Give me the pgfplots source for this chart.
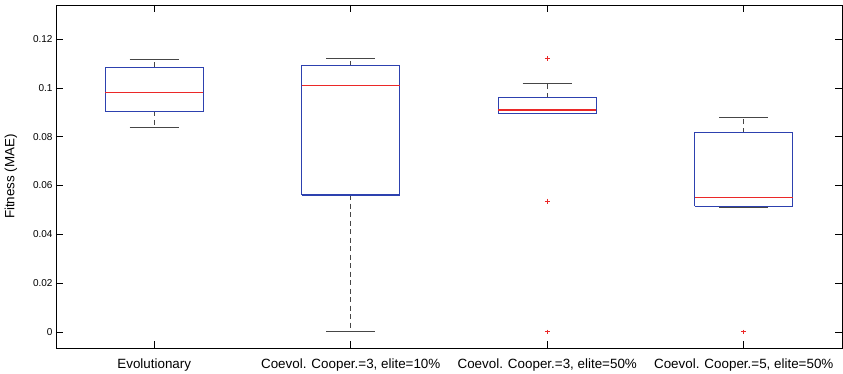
\documentclass[border=0pt]{standalone}
\usepackage{pgfplots}
\pgfplotsset{compat=1.18}
\usetikzlibrary{calc}
\usepackage{fontspec}
\setmainfont{Liberation Sans}
\definecolor{mblue}{RGB}{45,65,175}
\definecolor{mred}{RGB}{235,40,40}
\definecolor{wgray}{RGB}{70,70,70}
\begin{document}
\begin{tikzpicture}
\begin{axis}[
  name=ax,
  scale only axis,
  width=786pt, height=343pt,
  xmin=0.5, xmax=4.5,
  ymin=-0.0066, ymax=0.134,
  xtick={1,2,3,4},
  xticklabels={Evolutionary, {Coevol. Cooper.=3, elite=10\%}, {Coevol. Cooper.=3, elite=50\%}, {Coevol. Cooper.=5, elite=50\%}},
  ytick={0,0.02,0.04,0.06,0.08,0.1,0.12},
  scaled y ticks=false,
  yticklabel style={font=\fontsize{10}{12}\selectfont, /pgf/number format/fixed, /pgf/number format/precision=2},
  xticklabel style={font=\fontsize{13.4}{15}\selectfont, yshift=-7pt},
  /pgf/number format/assume math mode=true,
  ylabel={Fitness (MAE)},
  every axis y label/.style={at={(axis description cs:0,0.5)}, xshift=-45pt, rotate=90, anchor=center, font=\fontsize{13.4}{15}\selectfont},
  tick align=inside,
  major tick length=7pt,
  tick style={line width=0.6pt, black},
  axis line style={line width=0.8pt},
  unbounded coords=jump,
]
% dashed whiskers: quartile to whisker end
\addplot[wgray, mark=none, line width=1pt, dash pattern=on 5pt off 3.5pt] coordinates {
  (1,0.0904) (1,0.0837) (1,nan) (1,0.1085) (1,0.1115) (1,nan)
  (2,0.0561) (2,0.0) (2,nan) (2,0.1091) (2,0.1119) (2,nan)
  (3,0.0960) (3,0.1019) (3,nan)
  (4,0.0515) (4,0.0511) (4,nan) (4,0.0817) (4,0.0880)
};
% whisker caps
\addplot[wgray, mark=none, line width=1pt] coordinates {
  (0.875,0.0837) (1.125,0.0837) (1,nan) (0.875,0.1115) (1.125,0.1115) (1,nan)
  (1.875,0.0) (2.125,0.0) (2,nan) (1.875,0.1119) (2.125,0.1119) (2,nan)
  (2.875,0.0896) (3.125,0.0896) (3,nan) (2.875,0.1019) (3.125,0.1019) (3,nan)
  (3.875,0.0511) (4.125,0.0511) (4,nan) (3.875,0.0880) (4.125,0.0880)
};
% boxes: lower quartile to upper quartile
\addplot[mblue, mark=none, line width=1.2pt] coordinates {
  (0.75,0.0904) (1.25,0.0904) (1.25,0.1085) (0.75,0.1085) (0.75,0.0904) (1,nan)
  (1.75,0.0561) (2.25,0.0561) (2.25,0.1091) (1.75,0.1091) (1.75,0.0561) (2,nan)
  (2.75,0.0896) (3.25,0.0896) (3.25,0.0960) (2.75,0.0960) (2.75,0.0896) (3,nan)
  (3.75,0.0515) (4.25,0.0515) (4.25,0.0817) (3.75,0.0817) (3.75,0.0515)
};
% medians
\addplot[mred, mark=none, line width=1.2pt] coordinates {
  (0.75,0.0982) (1.25,0.0982) (1,nan)
  (1.75,0.1009) (2.25,0.1009) (2,nan)
  (2.75,0.0910) (3.25,0.0910) (3,nan)
  (3.75,0.0550) (4.25,0.0550)
};
% outliers
\addplot[mred, only marks, mark=+, mark size=2.4pt, line width=0.9pt] coordinates {
  (3,0.1121) (3,0.0536) (3,0.0) (4,0.0)
};
\end{axis}
\pgfresetboundingbox
\path ($(ax.south west)+(-56pt,-25pt)$) rectangle ($(ax.north east)+(1pt,5pt)$);
\end{tikzpicture}
\end{document}
